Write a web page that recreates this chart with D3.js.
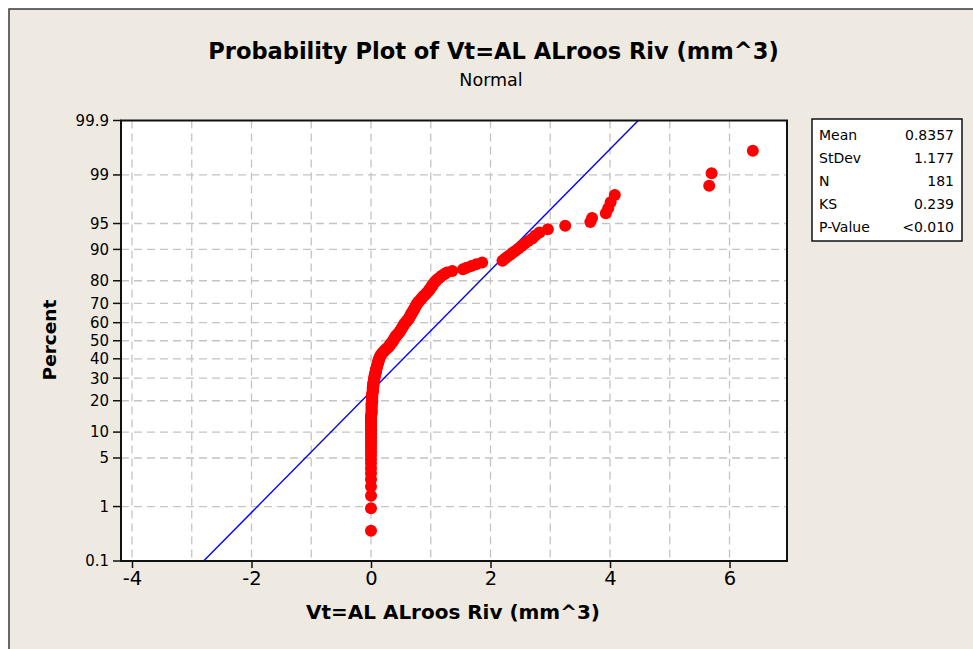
<!DOCTYPE html>
<html><head><meta charset="utf-8">
<script src="https://cdn.jsdelivr.net/npm/d3@7"></script>
<style>
body{margin:0;background:#fff}
svg{display:block}
text{font-family:"DejaVu Sans",Verdana,sans-serif;fill:#000}
</style></head>
<body><svg id="c" width="973" height="649"></svg>
<script>
// ---------- data ----------
const titleText = "Probability Plot of Vt=AL ALroos Riv (mm^3)";
const subtitleText = "Normal";
const xLabel = "Vt=AL ALroos Riv (mm^3)";
const yLabel = "Percent";

const values = [
  0,0,0,0,0,0,0,0,0,0,
  0,0,0,0,0,0,0,0,0,0,
  0,0,0,0,0,0,0,0.01,0.01,0.01,
  0.01,0.01,0.01,0.01,0.01,0.02,0.02,0.02,0.02,
  0.02,0.02,0.02,0.03,0.03,0.03,0.03,0.03,0.04,0.04,0.04,0.04,0.05,0.05,
  0.05,0.06,0.06,0.06,0.07,0.07,0.08,0.08,0.08,0.09,0.09,0.10,0.10,0.11,0.11,0.12,
  0.12,0.13,0.13,0.14,0.14,0.15,
  0.16,0.17,0.18,0.20,0.21,0.23,0.24,0.26,0.28,0.30,
  0.31,0.32,0.33,0.35,0.36,0.37,0.38,0.39,0.40,0.41,0.42,0.44,0.45,0.47,
  0.48,0.49,0.50,0.51,0.52,0.53,0.54,0.55,0.56,0.58,0.59,0.60,0.62,
  0.63,0.64,0.65,0.66,0.67,0.68,0.69,0.70,0.71,0.72,0.73,0.74,0.75,0.76,0.77,0.79,
  0.80,0.82,0.84,0.85,0.87,0.89,0.91,0.93,
  0.95,0.97,0.98,1.00,1.01,1.03,1.04,1.06,1.08,1.10,
  1.13,1.16,1.19,1.23,1.27,1.36,
  1.54,1.60,1.68,1.76,1.86,
  2.20,2.24,2.28,2.33,2.37,2.42,2.47,2.52,2.57,2.63,2.70,2.75,2.82,2.96,
  3.25,3.67,3.70,3.93,3.97,4.01,4.08,5.66,5.70,6.39
];

const fitMean = 0.8357;
const fitStDev = 1.177;

const xTicks = [-4,-2,0,2,4,6];
const xGrid = [-4,-3,-2,-1,0,1,2,3,4,5,6];
const yTicks = [0.1,1,5,10,20,30,40,50,60,70,80,90,95,99,99.9];
const yGrid = [1,5,10,20,30,40,50,60,70,80,90,95,99];

const statLabels = ["Mean","StDev","N","KS","P-Value"];
const statValues = ["0.8357","1.177","181","0.239","<0.010"];

// ---------- helpers ----------
function qnorm(p){ // Acklam inverse normal CDF
  const a=[-3.969683028665376e+01,2.209460984245205e+02,-2.759285104469687e+02,1.383577518672690e+02,-3.066479806614716e+01,2.506628277459239e+00];
  const b=[-5.447609879822406e+01,1.615858368580409e+02,-1.556989798598866e+02,6.680131188771972e+01,-1.328068155288572e+01];
  const c=[-7.784894002430293e-03,-3.223964580411365e-01,-2.400758277161838e+00,-2.549732539343734e+00,4.374664141464968e+00,2.938163982698783e+00];
  const d=[7.784695709041462e-03,3.224671290700398e-01,2.445134137142996e+00,3.754408661907416e+00];
  const pl=0.02425, ph=1-pl; let q,r;
  if(p<pl){q=Math.sqrt(-2*Math.log(p));return (((((c[0]*q+c[1])*q+c[2])*q+c[3])*q+c[4])*q+c[5])/((((d[0]*q+d[1])*q+d[2])*q+d[3])*q+1);}
  if(p<=ph){q=p-0.5;r=q*q;return (((((a[0]*r+a[1])*r+a[2])*r+a[3])*r+a[4])*r+a[5])*q/(((((b[0]*r+b[1])*r+b[2])*r+b[3])*r+b[4])*r+1);}
  q=Math.sqrt(-2*Math.log(1-p));return -(((((c[0]*q+c[1])*q+c[2])*q+c[3])*q+c[4])*q+c[5])/((((d[0]*q+d[1])*q+d[2])*q+d[3])*q+1);
}

// ---------- layout ----------
const svg = d3.select("#c");
const L=121, R=787, T=120.5, B=561;

svg.append("rect").attr("x",0).attr("y",0).attr("width",973).attr("height",649).attr("fill","#fff");
svg.append("rect").attr("x",9).attr("y",9).attr("width",1000).attr("height",700)
  .attr("fill","#EEEAE1").attr("stroke","#3a3a3a").attr("stroke-width",1.5);

const x = d3.scaleLinear().domain([-4.184, 6.962]).range([L, R]);
const zLo = qnorm(0.001), zHi = qnorm(0.999);
const yz = d3.scaleLinear().domain([zLo, zHi]).range([B, T]);
const y = pct => yz(qnorm(pct/100));

svg.append("rect").attr("x",L).attr("y",T).attr("width",R-L).attr("height",B-T).attr("fill","#fff");

svg.append("defs").append("clipPath").attr("id","clip")
  .append("rect").attr("x",L).attr("y",T).attr("width",R-L).attr("height",B-T);

// grid
const grid = svg.append("g").attr("stroke","#c4c4c4").attr("stroke-width",1.3).attr("stroke-dasharray","8,5");
grid.selectAll("line.v").data(xGrid).join("line").attr("class","v")
  .attr("x1",d=>x(d)).attr("x2",d=>x(d)).attr("y1",T).attr("y2",B);
grid.selectAll("line.h").data(yGrid).join("line").attr("class","h")
  .attr("x1",L).attr("x2",R).attr("y1",d=>y(d)).attr("y2",d=>y(d));

// fitted line
const plot = svg.append("g").attr("clip-path","url(#clip)");
const lineZ = [zLo, zHi];
plot.append("path")
  .attr("d", d3.line().x(z=>x(fitMean+fitStDev*z)).y(z=>yz(z))(lineZ))
  .attr("fill","none").attr("stroke","#0000ff").attr("stroke-width",1.4);

// points (median ranks)
const n = values.length;
const pts = values.map((v,i)=>({v, p:100*(i+1-0.3)/(n+0.4)}));
plot.selectAll("circle").data(pts).join("circle")
  .attr("cx",d=>x(d.v)).attr("cy",d=>y(d.p)).attr("r",6).attr("fill","#ff0000");

// frame
svg.append("rect").attr("x",L).attr("y",T).attr("width",R-L).attr("height",B-T)
  .attr("fill","none").attr("stroke","#111").attr("stroke-width",2);

// x axis
const xAxis = d3.axisBottom(x).tickValues(xTicks).tickSize(7).tickPadding(3).tickFormat(d=>d<0?"-"+Math.abs(d):d);
const gx = svg.append("g").attr("transform",`translate(0,${B})`).call(xAxis);
gx.select(".domain").remove();
gx.selectAll(".tick line").attr("stroke","#111").attr("stroke-width",1.5);
gx.selectAll(".tick text").attr("font-size",19.5).attr("font-family","DejaVu Sans").attr("fill","#000");

// y axis
const gy = svg.append("g").attr("transform",`translate(${L},0)`);
gy.selectAll("g").data(yTicks).join("g").each(function(d){
  const g=d3.select(this);
  g.append("line").attr("x1",-8).attr("x2",0).attr("y1",y(d)).attr("y2",y(d)).attr("stroke","#111").attr("stroke-width",1.5);
  g.append("text").attr("x",-12).attr("y",y(d)).attr("dy","0.36em").attr("text-anchor","end")
    .attr("font-size",15).text(d);
});

// titles
function fit(sel, w){ const l=sel.node().getComputedTextLength(); const fs=+sel.attr("font-size"); sel.attr("font-size", fs*w/l); }
const t1 = svg.append("text").attr("x",493.5).attr("y",59).attr("text-anchor","middle")
  .attr("font-weight","bold").attr("font-size",20).text(titleText);
fit(t1, 571);
svg.append("text").attr("x",491).attr("y",86).attr("text-anchor","middle").attr("font-size",17.5).text(subtitleText);
const xl = svg.append("text").attr("x",453).attr("y",619).attr("text-anchor","middle")
  .attr("font-weight","bold").attr("font-size",18).text(xLabel);
fit(xl, 294);
svg.append("text").attr("transform","translate(56,340) rotate(-90)").attr("text-anchor","middle")
  .attr("font-weight","bold").attr("font-size",18.5).text(yLabel);

// stats box
const bx=812, by=119, bw=150, bh=122;
svg.append("rect").attr("x",bx).attr("y",by).attr("width",bw).attr("height",bh)
  .attr("fill","#fff").attr("stroke","#111").attr("stroke-width",1.5);
const rowH = 23;
statLabels.forEach((s,i)=>{
  svg.append("text").attr("x",bx+7).attr("y",by+21+i*rowH).attr("font-size",14).text(s);
  svg.append("text").attr("x",bx+bw-8).attr("y",by+21+i*rowH).attr("text-anchor","end").attr("font-size",14).text(statValues[i]);
});
</script></body></html>
